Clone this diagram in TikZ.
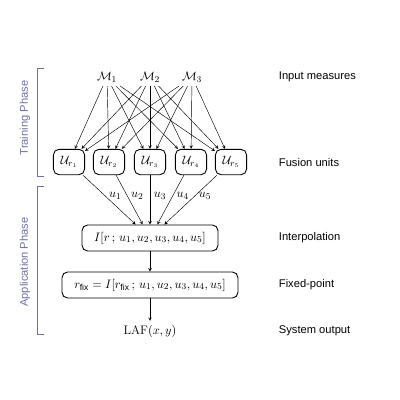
\documentclass[tikz,border=0pt]{standalone}
\usepackage{fontspec}
\setsansfont{Liberation Sans}
\definecolor{phasecol}{RGB}{112,112,165}
\begin{document}
\begin{tikzpicture}[x=0.0315cm, y=-0.0315cm, >=stealth,
  every node/.style={font=\fontsize{11}{13}\selectfont},
  unitbox/.style={draw, thick, rounded corners=5pt, minimum width=0.98cm, minimum height=0.8cm, inner sep=1pt},
  stagebox/.style={draw, thick, rounded corners=5pt, minimum height=0.82cm},
  desc/.style={anchor=west, font=\sffamily\fontsize{10}{12}\selectfont},
  phaseline/.style={phasecol, thin},
  phasetext/.style={phasecol, font=\sffamily\fontsize{10}{12}\selectfont, rotate=90}]
\useasboundingbox (0,0) rectangle (400,400);

% input measures
\node (m1) at (107,77) {$\mathcal{M}_1$};
\node (m2) at (150,77) {$\mathcal{M}_2$};
\node (m3) at (192,77) {$\mathcal{M}_3$};

% fusion units
\foreach \i/\x in {1/69,2/109,3/150,4/191,5/231}
{
    \node[unitbox] (ur\i) at (\x,162) {$\mathcal{U}_{r_\i}$};
}
\foreach \m in {1,2,3}
    \foreach \i in {1,...,5}
        \draw[->] (m\m) -- (ur\i);

% application
\node[stagebox, minimum width=4.28cm] (interp) at (150,238) {$I[r\,;\,u_1,u_2,u_3,u_4,u_5]$};
\node[stagebox, minimum width=5.54cm] (fixpt) at (150,285) {$r_{\mathsf{fix}}=I[r_{\mathsf{fix}}\,;\,u_1,u_2,u_3,u_4,u_5]$};
\node (laf) at (150,331) {$\mathrm{LAF}(x,y)$};

\foreach \i in {1,...,5}
{
    \draw[->] (ur\i) -- node[pos=0.42, right] {$u_\i$} (interp);
}
\draw[->] (interp) -- (fixpt);
\draw[->] (fixpt) -- (laf);

% stage names
\node[desc] (din) at (275,77) {Input measures};
\node[desc] (dfu) at (275,163) {Fusion units};
\node[desc] (dip) at (275,238) {Interpolation};
\node[desc] (dfx) at (275,285) {Fixed-point};
\node[desc] (dout) at (275,331) {System output};

% phases
\draw[phaseline] (44,68) -- (37,68) -- (37,176) -- (44,176);
\node[phasetext] (train) at (25,118) {Training Phase};
\draw[phaseline] (44,186) -- (37,186) -- (37,334) -- (44,334);
\node[phasetext] (appl) at (25,262) {Application Phase};
\end{tikzpicture}
\end{document}
